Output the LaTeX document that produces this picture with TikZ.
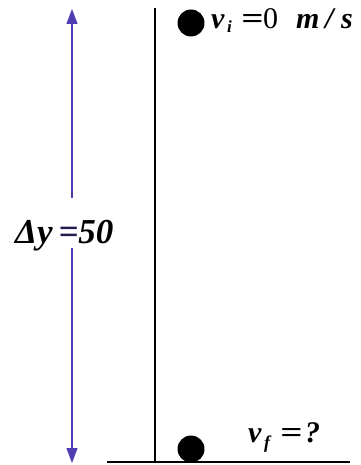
\documentclass[tikz,border=0pt]{standalone}
\usepackage{fontspec}
\setmainfont{Liberation Serif}
\usetikzlibrary{arrows.meta}
\definecolor{arrowpurple}{RGB}{78,62,178}
\tikzset{
  ball/.style={circle,fill=black,inner sep=0pt,minimum size=27pt},
  lbl/.style={inner sep=0pt,anchor=base west,font=\fontsize{30}{32}\selectfont\bfseries\itshape},
  biglbl/.style={lbl,font=\fontsize{35}{37}\selectfont\bfseries\itshape},
  measure/.style={arrowpurple,line width=1.3pt,-{Triangle[width=11pt,length=15pt]}},
  wall/.style={line width=2pt}
}
\newcommand{\wideeq}{\scalebox{1.3}[1]{=}}
\begin{document}
\begin{tikzpicture}[x=1pt,y=-1pt]
\useasboundingbox[fill=white] (0,0) rectangle (360,465);
% ground and pole
\coordinate (gl) at (107,462);
\coordinate (gr) at (350,462);
\coordinate (ptop) at (155,8);
\coordinate (pbot) at (155,462);
\draw[wall] (gl) -- (gr);
\draw[wall] (ptop) -- (pbot);
% balls
\node[ball] (b1) at (191,23) {};
\node[ball] (b2) at (191,449) {};
% labels
\node[lbl] (vi) at (211,29) {\makebox[16pt][l]{v}\makebox[14pt][l]{\raisebox{-4pt}{\fontsize{17}{17}\selectfont i}}\makebox[22pt][l]{\wideeq}\makebox[33pt][l]{\mdseries\upshape 0}\makebox[29pt][l]{m}\makebox[16pt][l]{/}s};
\node[lbl] (vf) at (248,442) {\makebox[16pt][l]{v}\makebox[16pt][l]{\raisebox{-6pt}{\fontsize{18}{18}\selectfont f}}\makebox[25pt][l]{\wideeq}?};
\node[biglbl] (dy) at (15,243) {Δy\,{\color{black!55!arrowpurple}=}50};
% measuring arrow
\coordinate (au) at (72,198);
\coordinate (atop) at (72,9);
\coordinate (al) at (72,248);
\coordinate (abot) at (72,463);
\draw[measure] (au) -- (atop);
\draw[measure] (al) -- (abot);
\end{tikzpicture}
\end{document}
